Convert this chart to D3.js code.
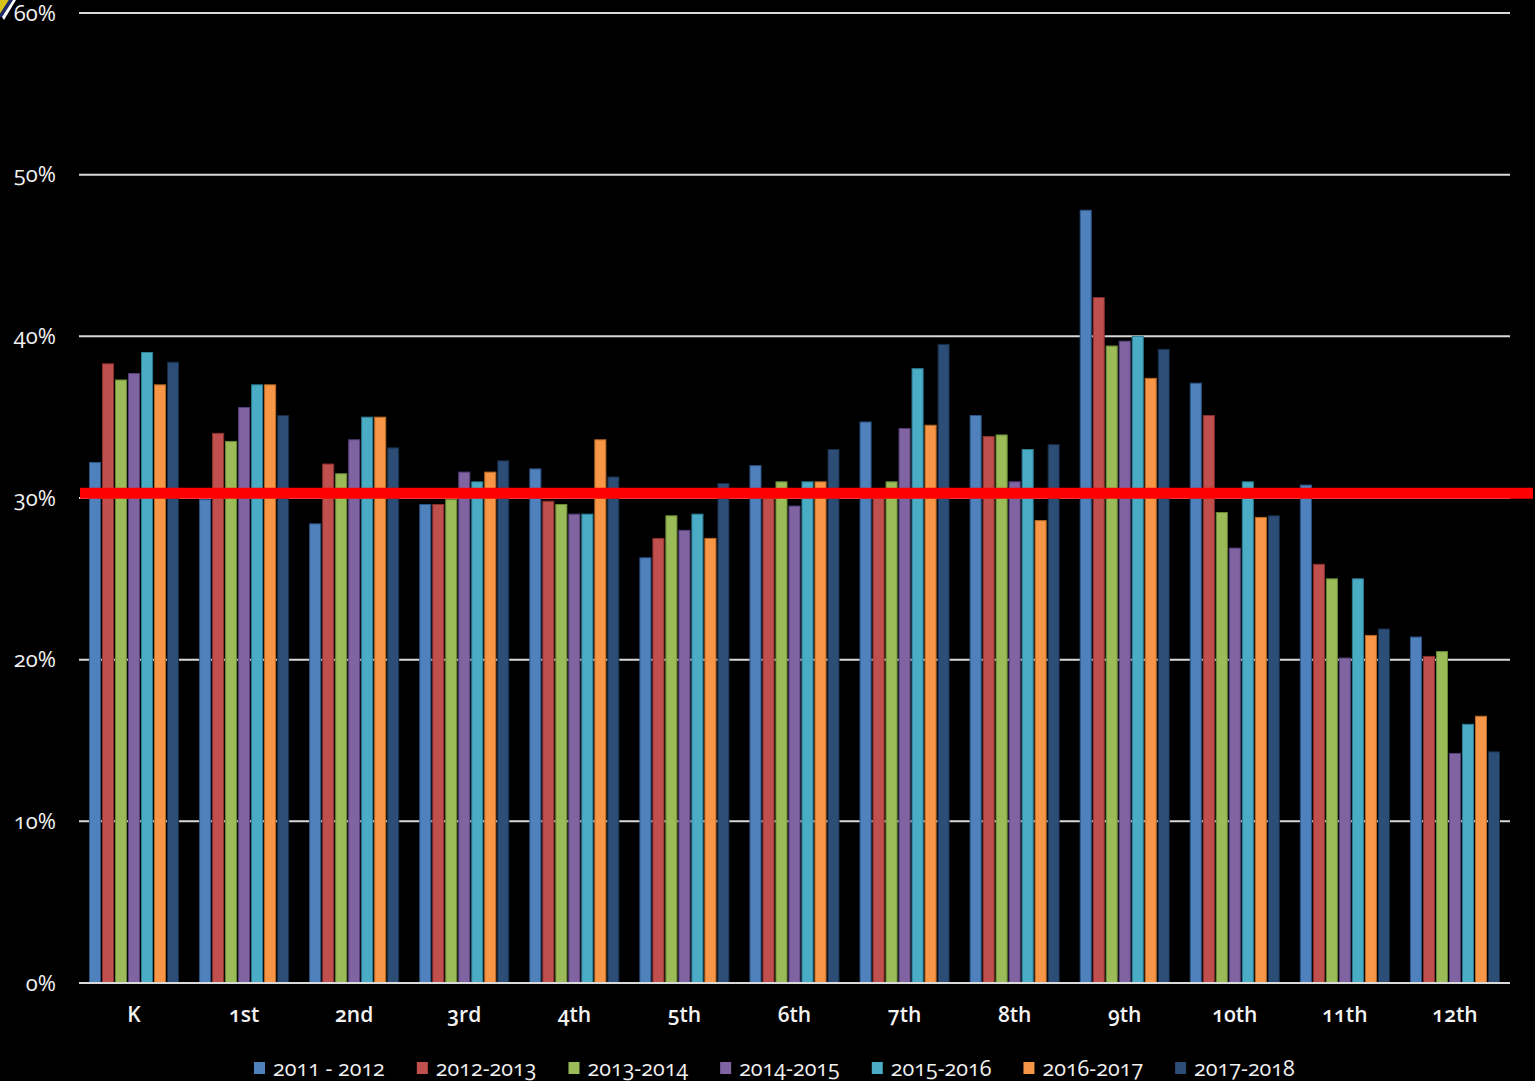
<!DOCTYPE html>
<html>
<head>
<meta charset="utf-8">
<script src="https://cdn.jsdelivr.net/npm/d3@7"></script>
<style>
  html, body { margin: 0; padding: 0; background: #000; }
  svg { display: block; }
  text { font-family: "Open Sans", Lato, sans-serif; font-variant-numeric: oldstyle-nums; fill: #f2f2f2; }
</style>
</head>
<body>
<div class="graph"></div>
<script>
var width = 1535;
var height = 1081;

// grades on the x axis
var grades = ["K", "1st", "2nd", "3rd", "4th", "5th", "6th", "7th", "8th", "9th", "10th", "11th", "12th"];

// school years (series)
var years = ["2011 - 2012", "2012-2013", "2013-2014", "2014-2015", "2015-2016", "2016-2017", "2017-2018"];
var colors = ["#4f81bd", "#c0504d", "#9bbb59", "#8064a2", "#4bacc6", "#f79646", "#2c4d75"];
var strokes = ["#2d5486", "#8a302e", "#6a8a35", "#55407a", "#2d7d93", "#b76a26", "#172c47"];

// percent per grade, one array per school year
var y2011 = [32.2, 29.9, 28.4, 29.6, 31.8, 26.3, 32.0, 34.7, 35.1, 47.8, 37.1, 30.8, 21.4];
var y2012 = [38.3, 34.0, 32.1, 29.6, 29.8, 27.5, 30.2, 30.2, 33.8, 42.4, 35.1, 25.9, 20.2];
var y2013 = [37.3, 33.5, 31.5, 29.9, 29.6, 28.9, 31.0, 31.0, 33.9, 39.4, 29.1, 25.0, 20.5];
var y2014 = [37.7, 35.6, 33.6, 31.6, 29.0, 28.0, 29.5, 34.3, 31.0, 39.7, 26.9, 20.1, 14.2];
var y2015 = [39.0, 37.0, 35.0, 31.0, 29.0, 29.0, 31.0, 38.0, 33.0, 40.0, 31.0, 25.0, 16.0];
var y2016 = [37.0, 37.0, 35.0, 31.6, 33.6, 27.5, 31.0, 34.5, 28.6, 37.4, 28.8, 21.5, 16.5];
var y2017 = [38.4, 35.1, 33.1, 32.3, 31.3, 30.9, 33.0, 39.5, 33.3, 39.2, 28.9, 21.9, 14.3];
var seriesValues = [y2011, y2012, y2013, y2014, y2015, y2016, y2017];

// y axis ticks and the red reference line
var yTicks = [0, 10, 20, 30, 40, 50, 60];
var targetLine = 30.3;

var plotLeft = 79, plotRight = 1510, plotTop = 13, plotBottom = 983;

var svg = d3.select(".graph").append("svg")
  .attr("width", width)
  .attr("height", height);

var x = d3.scaleBand()
  .domain(grades)
  .range([plotLeft, plotRight])
  .padding(0);

var x1 = d3.scaleBand()
  .domain(years)
  .range([10.5, x.bandwidth() - 10.5])
  .paddingInner(0.15)
  .paddingOuter(0);

var y = d3.scaleLinear()
  .domain([0, 60])
  .range([plotBottom, plotTop]);

// gridlines
svg.append("g")
  .selectAll("line")
  .data(yTicks)
  .join("line")
  .attr("x1", plotLeft)
  .attr("x2", plotRight)
  .attr("y1", d => y(d))
  .attr("y2", d => y(d))
  .attr("stroke", "#d9d9d9")
  .attr("stroke-width", 2);

// y labels
svg.append("g")
  .selectAll("text")
  .data(yTicks)
  .join("text")
  .attr("x", 56)
  .attr("y", d => y(d))
  .attr("dy", "0.35em")
  .attr("text-anchor", "end")
  .attr("font-size", 22)
  .text(d => d + "%");

// bars
var groups = svg.append("g")
  .selectAll("g")
  .data(grades)
  .join("g")
  .attr("transform", d => "translate(" + x(d) + ",0)");

groups.selectAll("rect")
  .data((g, gi) => years.map((yr, si) => ({ year: yr, si: si, value: seriesValues[si][gi] })))
  .join("rect")
  .attr("x", d => x1(d.year))
  .attr("width", x1.bandwidth())
  .attr("y", d => y(d.value))
  .attr("height", d => y(0) - y(d.value))
  .attr("fill", d => colors[d.si])
  .attr("stroke", d => strokes[d.si])
  .attr("stroke-width", 1);

// x axis line
svg.append("line")
  .attr("x1", plotLeft)
  .attr("x2", plotRight)
  .attr("y1", y(0))
  .attr("y2", y(0))
  .attr("stroke", "#d9d9d9")
  .attr("stroke-width", 2);

// x labels
svg.append("g")
  .selectAll("text")
  .data(grades)
  .join("text")
  .attr("x", d => x(d) + x.bandwidth() / 2)
  .attr("y", 1015)
  .attr("dy", "0.35em")
  .attr("text-anchor", "middle")
  .attr("font-size", 21)
  .attr("font-weight", 600)
  .text(d => d);

// red reference line
svg.append("line")
  .attr("x1", 80)
  .attr("x2", 1533)
  .attr("y1", y(targetLine))
  .attr("y2", y(targetLine))
  .attr("stroke", "#ff0000")
  .attr("stroke-width", 11);

// legend, items flow left to right
var legend = svg.append("g");
var lx = 254;
years.forEach(function (yr, i) {
  var item = legend.append("g").attr("transform", "translate(" + lx + ",1068)");
  item.append("rect")
    .attr("x", 0)
    .attr("y", -6)
    .attr("width", 11)
    .attr("height", 12)
    .attr("fill", colors[i]);
  var t = item.append("text")
    .attr("x", 19)
    .attr("y", 0)
    .attr("dy", "0.35em")
    .attr("font-size", 21.5)
    .text(yr);
  lx += 19 + t.node().getComputedTextLength() + 32;
});

// corner fragment at top-left
var corner = svg.append("g");
corner.append("path").attr("d", "M0,0 L9,0 L0,14 Z").attr("fill", "#d8c21a");
corner.append("path").attr("d", "M9,0 L13,0 L2,17 L0,17 L0,14 Z").attr("fill", "#1e2a6a");
corner.append("path").attr("d", "M13,0 L16,0 L4,20 L2,17 Z").attr("fill", "#ffffff");
</script>
</body>
</html>
